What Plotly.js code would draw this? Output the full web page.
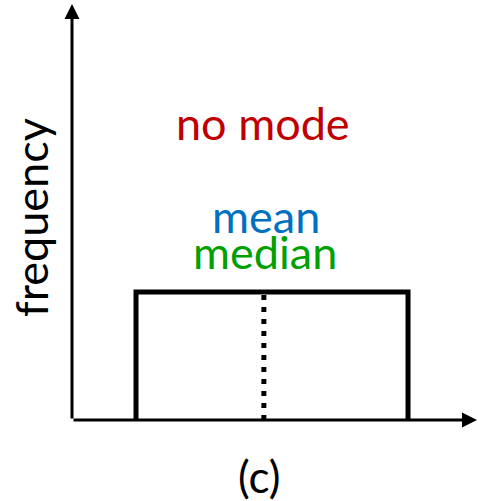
<!DOCTYPE html>
<html>
<head>
<meta charset="utf-8">
<script src="https://cdn.plot.ly/plotly-3.0.1.min.js"></script>
<style>html,body{margin:0;padding:0;background:#fff;}#chart{width:478px;height:501px;}</style>
</head>
<body>
<div id="chart"></div>
<script>
// Uniform distribution (no mode): bin edges and constant frequency
const xEdges = [1, 5];
const frequency = [1];
const medianValue = [2.88];
const labels = {mode: "no mode", mean: "mean", median: "median", yTitle: "frequency", caption: "(c)"};

const xs = [xEdges[0], xEdges[0], xEdges[1], xEdges[1]];
const ys = [0, frequency[0], frequency[0], 0];

const traces = [
  {x: xs, y: ys, mode: "lines", line: {color: "#000", width: 5}, hoverinfo: "skip", showlegend: false},
  {x: [medianValue[0], medianValue[0]], y: [0, frequency[0]], mode: "lines",
   line: {color: "#000", width: 5, dash: "5px,7px"}, hoverinfo: "skip", showlegend: false}
];

const F = "Lato, 'Open Sans', sans-serif";
const py = p => (420 - p) / 416;
const layout = {
  width: 478, height: 501,
  margin: {l: 72, r: 0, t: 4, b: 81},
  paper_bgcolor: "#fff", plot_bgcolor: "#fff",
  showlegend: false,
  xaxis: {range: [0.0588, 6.029], showgrid: false, zeroline: false, showline: false, showticklabels: false, ticks: "", fixedrange: true},
  yaxis: {range: [0, 3.25], showgrid: false, zeroline: false, showline: false, showticklabels: false, ticks: "", fixedrange: true},
  annotations: [
    {xref: "paper", yref: "paper", x: 0, y: 1, ax: 0, ay: 416, axref: "pixel", ayref: "pixel",
     showarrow: true, arrowhead: 2, arrowsize: 1, arrowwidth: 3, arrowcolor: "#000", standoff: 0, startstandoff: 0, text: ""},
    {xref: "paper", yref: "paper", x: 1, y: 0, ax: -406, ay: 0, axref: "pixel", ayref: "pixel",
     showarrow: true, arrowhead: 2, arrowsize: 1, arrowwidth: 3, arrowcolor: "#000", standoff: 0, startstandoff: 0, text: ""},
    {xref: "paper", yref: "paper", x: (263 - 72) / 406, y: py(123), text: labels.mode, showarrow: false,
     font: {family: F, size: 45, color: "#C00000"}, xanchor: "center", yanchor: "middle"},
    {xref: "paper", yref: "paper", x: (266 - 72) / 406, y: py(216), text: labels.mean, showarrow: false,
     font: {family: F, size: 45, color: "#0070C0"}, xanchor: "center", yanchor: "middle"},
    {xref: "paper", yref: "paper", x: (265 - 72) / 406, y: py(252), text: labels.median, showarrow: false,
     font: {family: F, size: 45, color: "#00A000"}, xanchor: "center", yanchor: "middle"},
    {xref: "paper", yref: "paper", x: (31 - 72) / 406, y: py(218), text: labels.yTitle, showarrow: false, textangle: -90,
     font: {family: F, size: 45, color: "#000"}, xanchor: "center", yanchor: "middle"},
    {xref: "paper", yref: "paper", x: (259 - 72) / 406, y: py(476), text: labels.caption, showarrow: false,
     font: {family: F, size: 44, color: "#000"}, xanchor: "center", yanchor: "middle"}
  ]
};

Plotly.newPlot("chart", traces, layout, {staticPlot: true, displayModeBar: false});
</script>
</body>
</html>
